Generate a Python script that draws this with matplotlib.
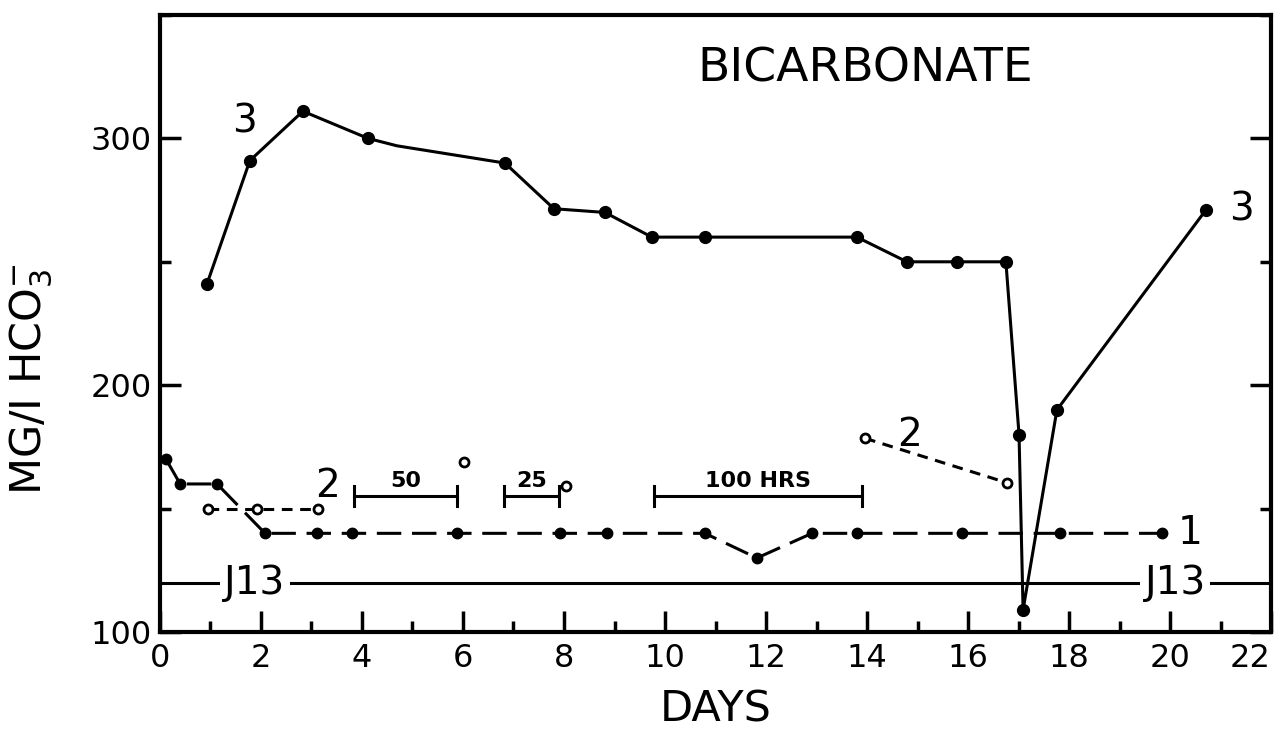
import matplotlib.pyplot as plt
from matplotlib.ticker import MultipleLocator

# series 3 (solid line, filled dots)
days3 = [0.93, 1.78, 2.83, 4.12, 4.69, 6.83, 7.8, 8.81, 9.74, 10.79, 13.8, 14.79, 15.78, 16.75, 17.01, 17.09, 17.76, 20.71]
bicarb3 = [241, 291, 311, 300, 297, 290, 271.5, 270, 260, 260, 260, 250, 250, 250, 180, 109, 190, 271]
marked3 = [0, 1, 2, 3, 5, 6, 7, 8, 9, 10, 11, 12, 13, 14, 15, 16, 17]

# series 1 (long dashes, filled dots)
days1 = [0.12, 0.4, 1.13, 2.08, 3.11, 3.8, 5.88, 7.92, 8.85, 10.79, 11.82, 12.91, 13.8, 15.88, 17.82, 19.84]
bicarb1 = [170, 160, 160, 140, 140, 140, 140, 140, 140, 140, 130, 140, 140, 140, 140, 140]

# series 2 (short dashes, open circles)
days2a = [0.95, 1.92, 3.13]
bicarb2a = [150, 150, 150]
days2b = [13.96, 16.77]
bicarb2b = [178.5, 160.5]
days2_single = [6.02, 8.04]
bicarb2_single = [169, 159]

# J13 reference level
j13 = 120

# time scale bars (start, end, label)
bars = [(3.85, 5.88, '50'), (6.82, 7.91, '25'), (9.78, 13.9, '100 HRS')]
bar_y = 155

xticks = list(range(0, 23, 2))

fig = plt.figure(figsize=(12.87, 7.48), dpi=100)
ax = fig.add_axes([0.1243, 0.155, 0.8633, 0.825])

lw = 2.2
ax.axhline(j13, color='black', lw=lw, zorder=1)
ax.plot(days3, bicarb3, '-', color='black', lw=lw, marker='o', ms=8.5,
        markevery=marked3, zorder=3)
ax.plot(days1, bicarb1, color='black', lw=lw, dashes=(8, 3.5), marker='o', ms=7.5, zorder=3)
ax.plot(days2a, bicarb2a, color='black', lw=lw, dashes=(3.5, 2.5), marker='o', ms=6.5,
        mfc='white', mew=2, zorder=3)
ax.plot(days2b, bicarb2b, color='black', lw=lw, dashes=(3.5, 2.5), marker='o', ms=6.5,
        mfc='white', mew=2, zorder=3)
ax.plot(days2_single, bicarb2_single, 'o', color='black', ms=6.5, mfc='white', mew=2,
        zorder=3)

for x0, x1, lab in bars:
    ax.plot([x0, x1], [bar_y, bar_y], color='black', lw=lw)
    ax.plot([x0, x0], [bar_y - 4, bar_y + 4], color='black', lw=lw)
    ax.plot([x1, x1], [bar_y - 4, bar_y + 4], color='black', lw=lw)
    ax.text((x0 + x1) / 2, bar_y + 2, lab, ha='center', va='bottom', fontsize=16,
            fontweight='bold')

# labels on the curves
ax.text(1.68, 307, '3', fontsize=28, ha='center', va='center')
ax.text(21.42, 271, '3', fontsize=28, ha='center', va='center')
ax.text(3.31, 159, '2', fontsize=28, ha='center', va='center')
ax.text(14.85, 180, '2', fontsize=28, ha='center', va='center')
ax.text(20.4, 140, '1', fontsize=28, ha='center', va='center')
for xj in (1.88, 20.1):
    ax.text(xj, j13, 'J13', fontsize=28, ha='center', va='center', zorder=2,
            bbox=dict(facecolor='white', edgecolor='none', pad=3))
ax.text(13.96, 328, 'BICARBONATE', fontsize=34, ha='center', va='center')

ax.set_xlim(0, 22)
ax.set_ylim(100, 350)
ax.set_xticks(xticks)
ax.set_xticklabels([str(t) for t in xticks])
ax.xaxis.set_minor_locator(MultipleLocator(1))
ax.set_yticks([100, 200, 300])
ax.yaxis.set_minor_locator(MultipleLocator(50))
ax.tick_params(which='both', direction='in', right=True, width=2.5, labelsize=23)
ax.tick_params(which='major', length=15)
ax.tick_params(which='minor', length=8)
ax.tick_params(axis='x', pad=8)
ax.tick_params(axis='y', pad=6)
for sp in ax.spines.values():
    sp.set_linewidth(3)

ax.get_xticklabels()[-1].set_horizontalalignment('right')

ax.set_xlabel('DAYS', fontsize=31, labelpad=10)
ax.set_ylabel(r'MG/I HCO$_3^{-}$', fontsize=31)
ax.yaxis.set_label_coords(-0.095, 0.41)

fig.savefig('out.png', dpi=100)
